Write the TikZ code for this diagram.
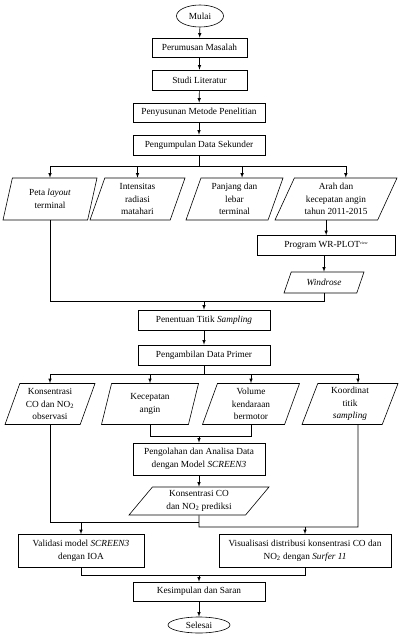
\documentclass[tikz,border=0pt]{standalone}
\usepackage{fontspec}
\setmainfont{Liberation Serif}
\usetikzlibrary{shapes.geometric}

\tikzset{
  proses/.style={draw, rectangle, line width=0.6pt, align=center, inner sep=1pt},
  datain/.style={draw, trapezium, trapezium left angle=66, trapezium right angle=114,
    trapezium stretches body, line width=0.6pt, align=center, inner sep=1pt},
  terminal/.style={draw, ellipse, line width=0.6pt, inner sep=0pt},
  arr/.style={-latex, line width=0.6pt},
  garis/.style={line width=0.6pt}
}

\begin{document}
\begin{tikzpicture}[x=1pt, y=-1pt, font=\fontsize{9.3}{12.5}\selectfont]
\useasboundingbox (0,0) rectangle (400,642);

% tahap awal
\node [terminal, minimum width=47, minimum height=22] (mulai) at (200,16) {Mulai};
\node [proses, minimum width=95, minimum height=19] (rumusan) at (199.5,47.5) {Perumusan Masalah};
\node [proses, minimum width=95, minimum height=20] (studi) at (199.5,80) {Studi Literatur};
\node [proses, minimum width=132, minimum height=19] (metode) at (199,112.5) {Penyusunan Metode Penelitian};
\node [proses, minimum width=132, minimum height=20] (sekunder) at (199,145) {Pengumpulan Data Sekunder};

\draw [arr] (mulai) -- (rumusan);
\draw [arr] (rumusan) -- (studi);
\draw [arr] (studi) -- (metode);
\draw [arr] (metode) -- (sekunder);

% data sekunder
\node [datain, minimum width=94, minimum height=42] (peta) at (50,199) {Peta \textit{layout}\\terminal};
\node [datain, minimum width=95, minimum height=42] (radiasi) at (137.5,199) {Intensitas\\radiasi\\matahari};
\node [datain, minimum width=97, minimum height=42] (panjang) at (234.5,199) {Panjang dan\\lebar\\terminal};
\node [datain, trapezium left angle=60, trapezium right angle=120, minimum width=122,
  minimum height=42] (angin) at (336,199) {Arah dan\\kecepatan angin\\tahun 2011-2015};

\coordinate (cab1) at (199,166);
\draw [garis] (sekunder) -- (cab1);
\draw [arr] (cab1) -| (peta.north);
\draw [arr] (cab1) -| (radiasi.north);
\draw [arr] (cab1) -| (panjang.top side);
\draw [arr] (cab1) -| (angin.top side);

% olah data angin
\node [proses, minimum width=138, minimum height=20] (wrplot) at (326,245.5)
  {Program WR-PLOT\raisebox{3pt}{\fontsize{4}{4}\selectfont view}};
\node [datain, trapezium left angle=50, trapezium right angle=130, minimum width=80,
  minimum height=21] (windrose) at (324,282.5) {\textit{Windrose}};

\draw [arr] (angin.bottom side) -- (angin.bottom side |- wrplot.north);
\draw [arr] (windrose.north |- wrplot.south) -- (windrose.north);

% penentuan titik
\node [proses, minimum width=132, minimum height=20] (penentuan) at (204,320) {Penentuan Titik \textit{Sampling}};
\node [proses, minimum width=132, minimum height=20] (primer) at (204,355) {Pengambilan Data Primer};

\coordinate (gab1) at (204,301);
\draw [garis] (peta.south) |- (gab1);
\draw [garis] (windrose.south) |- (gab1);
\draw [arr] (gab1) -- (penentuan);
\draw [arr] (penentuan) -- (primer);

% data primer
\node [datain, minimum width=90, minimum height=41] (obs) at (50,404) {Konsentrasi\\CO dan NO\textsubscript{2}\\observasi};
\node [datain, minimum width=97, minimum height=41] (kecepatan) at (150,404) {Kecepatan\\angin};
\node [datain, minimum width=97, minimum height=41] (volume) at (251,404) {Volume\\kendaraan\\bermotor};
\node [datain, minimum width=96, minimum height=41] (koordinat) at (350,404) {Koordinat\\titik\\\textit{sampling}};

\coordinate (cab2) at (204,374);
\draw [garis] (primer) -- (cab2);
\draw [arr] (cab2) -| (obs.north);
\draw [arr] (cab2) -| (kecepatan.north);
\draw [arr] (cab2) -| (volume.north);
\draw [arr] (cab2) -| (koordinat.top side);

% pengolahan
\node [proses, minimum width=132, minimum height=32] (olah) at (199,459)
  {Pengolahan dan Analisa Data\\dengan Model \textit{SCREEN3}};
\node [datain, trapezium left angle=44, trapezium right angle=136, minimum width=140,
  minimum height=28] (prediksi) at (199,501) {Konsentrasi CO\\dan NO\textsubscript{2} prediksi};

\coordinate (gab2) at (199,436);
\draw [garis] (kecepatan.south) |- (gab2);
\draw [garis] (volume.south) |- (gab2);
\draw [arr] (gab2) -- (olah);
\draw [arr] (olah) -- (prediksi);

% validasi dan visualisasi
\node [proses, minimum width=126, minimum height=33] (validasi) at (81,551)
  {Validasi model \textit{SCREEN3}\\dengan IOA};
\node [proses, minimum width=172, minimum height=33] (visual) at (305,551)
  {Visualisasi distribusi konsentrasi CO dan\\NO\textsubscript{2} dengan \textit{Surfer 11}};

\coordinate (kiri) at (199,522);
\coordinate (kanan) at (199,527);
\coordinate (kbawah) at (koordinat.top side |- koordinat.south);
\draw [garis] (obs.south) |- (kiri);
\draw [garis] (prediksi.south) -- (kanan) -| (kbawah);
\draw [arr] (validasi.north |- kiri) -- (validasi.north);
\draw [arr] (visual.north |- kanan) -- (visual.north);

% akhir
\node [proses, minimum width=132, minimum height=19] (simpul) at (199,591.5) {Kesimpulan dan Saran};
\node [terminal, minimum width=62, minimum height=16] (selesai) at (199,625) {Selesai};

\coordinate (gab4) at (199,575);
\draw [garis] (validasi.south) |- (gab4);
\draw [garis] (visual.south) |- (gab4);
\draw [arr] (gab4) -- (simpul);
\draw [arr] (simpul) -- (selesai);

\end{tikzpicture}
\end{document}
